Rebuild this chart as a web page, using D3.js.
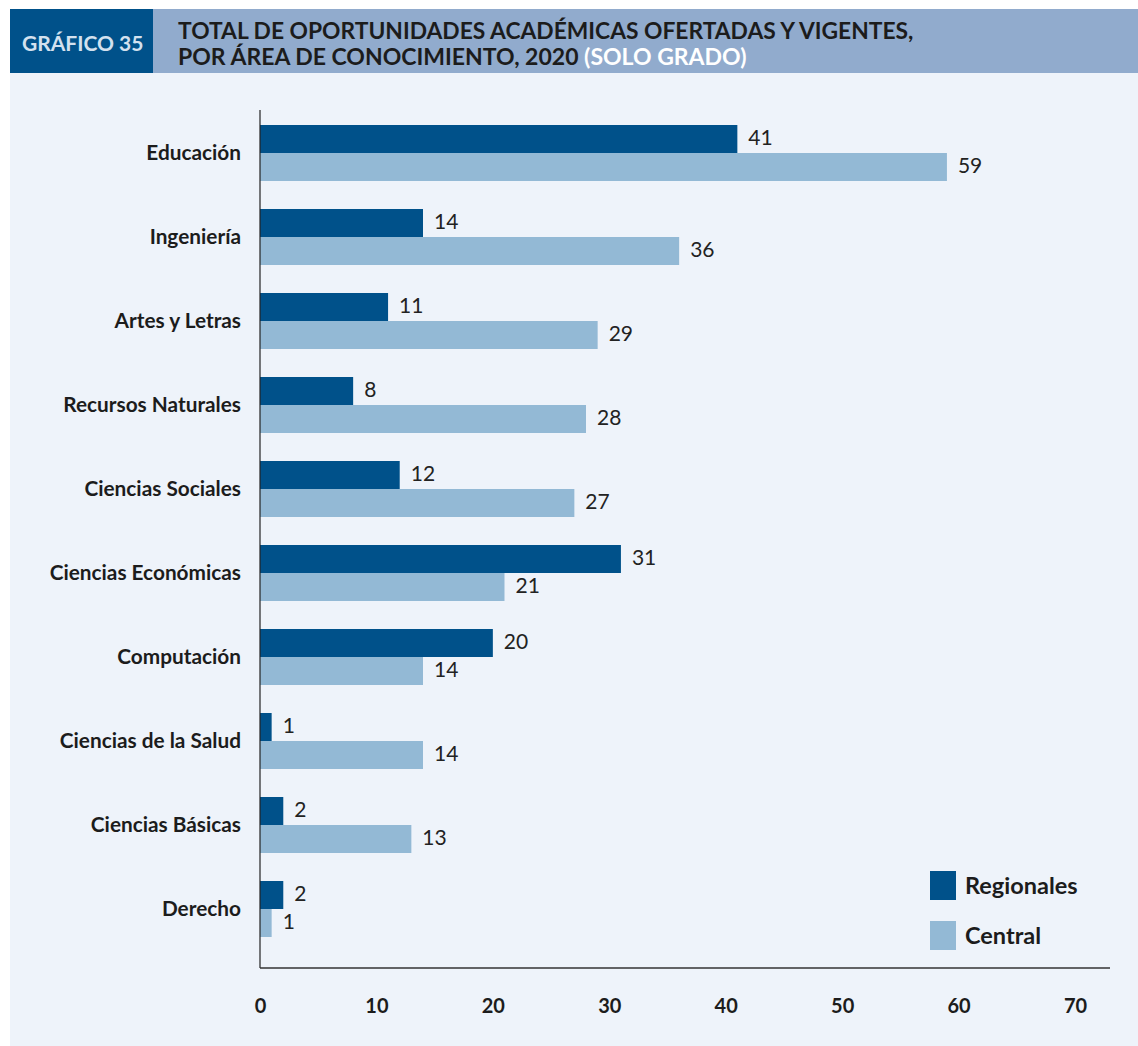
<!DOCTYPE html>
<html><head><meta charset="utf-8">
<script src="https://cdn.jsdelivr.net/npm/d3@7"></script>
<style>body{margin:0;background:#fff}svg{display:block}text{font-family:Lato,"Open Sans",sans-serif}</style>
</head><body>
<svg id="c" width="1138" height="1046"></svg>
<script>
const categories = ["Educación","Ingeniería","Artes y Letras","Recursos Naturales","Ciencias Sociales","Ciencias Económicas","Computación","Ciencias de la Salud","Ciencias Básicas","Derecho"];
const regionales = [41,14,11,8,12,31,20,1,2,2];
const central = [59,36,29,28,27,21,14,14,13,1];
const seriesNames = ["Regionales","Central"];
const xTicks = [0,10,20,30,40,50,60,70];
const colors = ["#00518a","#93b9d5"];

const svg = d3.select("#c");
svg.append("rect").attr("x",10).attr("y",73).attr("width",1128).attr("height",973).attr("fill","#eef3fa");
svg.append("rect").attr("x",153).attr("y",9).attr("width",985).attr("height",64).attr("fill","#91abcd");
svg.append("rect").attr("x",10).attr("y",9).attr("width",143).attr("height",64).attr("fill","#00518a");
svg.append("text").attr("x",22).attr("y",51).attr("fill","#d3e1ef").attr("font-size",21).attr("font-weight",700).text("GRÁFICO 35");
svg.append("text").attr("x",178).attr("y",39).attr("fill","#1c1c1c").attr("font-size",22.8).attr("font-weight",700).text("TOTAL DE OPORTUNIDADES ACADÉMICAS OFERTADAS Y VIGENTES,");
const t2 = svg.append("text").attr("x",178).attr("y",65).attr("fill","#1c1c1c").attr("font-size",23).attr("font-weight",700);
t2.append("tspan").text("POR ÁREA DE CONOCIMIENTO, 2020 ");
t2.append("tspan").attr("fill","#ffffff").text("(SOLO GRADO)");

const x = d3.scaleLinear().domain([0,70]).range([260,1075]);
const y = d3.scaleBand().domain(categories).range([125, 125 + 9*84 + 56]).paddingInner(1 - 56/84).paddingOuter(0);
const ys = d3.scaleBand().domain(seriesNames).range([0, y.bandwidth()]);

const data = categories.map((c,i)=>({c, vals:[regionales[i], central[i]]}));
const g = svg.append("g");
data.forEach(d=>{
  d.vals.forEach((v,j)=>{
    g.append("rect").attr("x",x(0)).attr("y",y(d.c)+ys(seriesNames[j])).attr("width",x(v)-x(0)).attr("height",ys.bandwidth()).attr("fill",colors[j]);
    g.append("text").attr("x",x(v)+11).attr("y",y(d.c)+ys(seriesNames[j])+ys.bandwidth()/2 - 2).attr("dy","0.36em")
      .attr("font-size",21).attr("fill","#222").text(v);
  });
  g.append("text").attr("x",241).attr("y",y(d.c)+y.bandwidth()/2).attr("dy","0.35em").attr("text-anchor","end")
    .attr("font-size",20.8).attr("font-weight",700).attr("fill","#1c1c1c").text(d.c);
});

// axes lines
svg.append("line").attr("x1",260).attr("x2",260).attr("y1",110).attr("y2",968).attr("stroke","#222").attr("stroke-width",1.2);
const xa = svg.append("g").attr("transform","translate(0,968)")
  .call(d3.axisBottom(x).tickValues(xTicks).tickSize(0).tickPadding(31));
xa.select(".domain").attr("d","M260,0H1110").attr("stroke","#333").attr("stroke-width",1.5);
xa.selectAll("text").attr("font-size",20).attr("font-weight",700).attr("fill","#1c1c1c").attr("font-family","Lato,sans-serif");

// legend
seriesNames.forEach((s,i)=>{
  svg.append("rect").attr("x",930).attr("y",871+i*50).attr("width",26).attr("height",29).attr("fill",colors[i]);
  svg.append("text").attr("x",965).attr("y",886+i*50).attr("dy","0.36em").attr("font-size",23.5).attr("font-weight",700).attr("fill","#1c1c1c").text(s);
});
</script>
</body></html>
